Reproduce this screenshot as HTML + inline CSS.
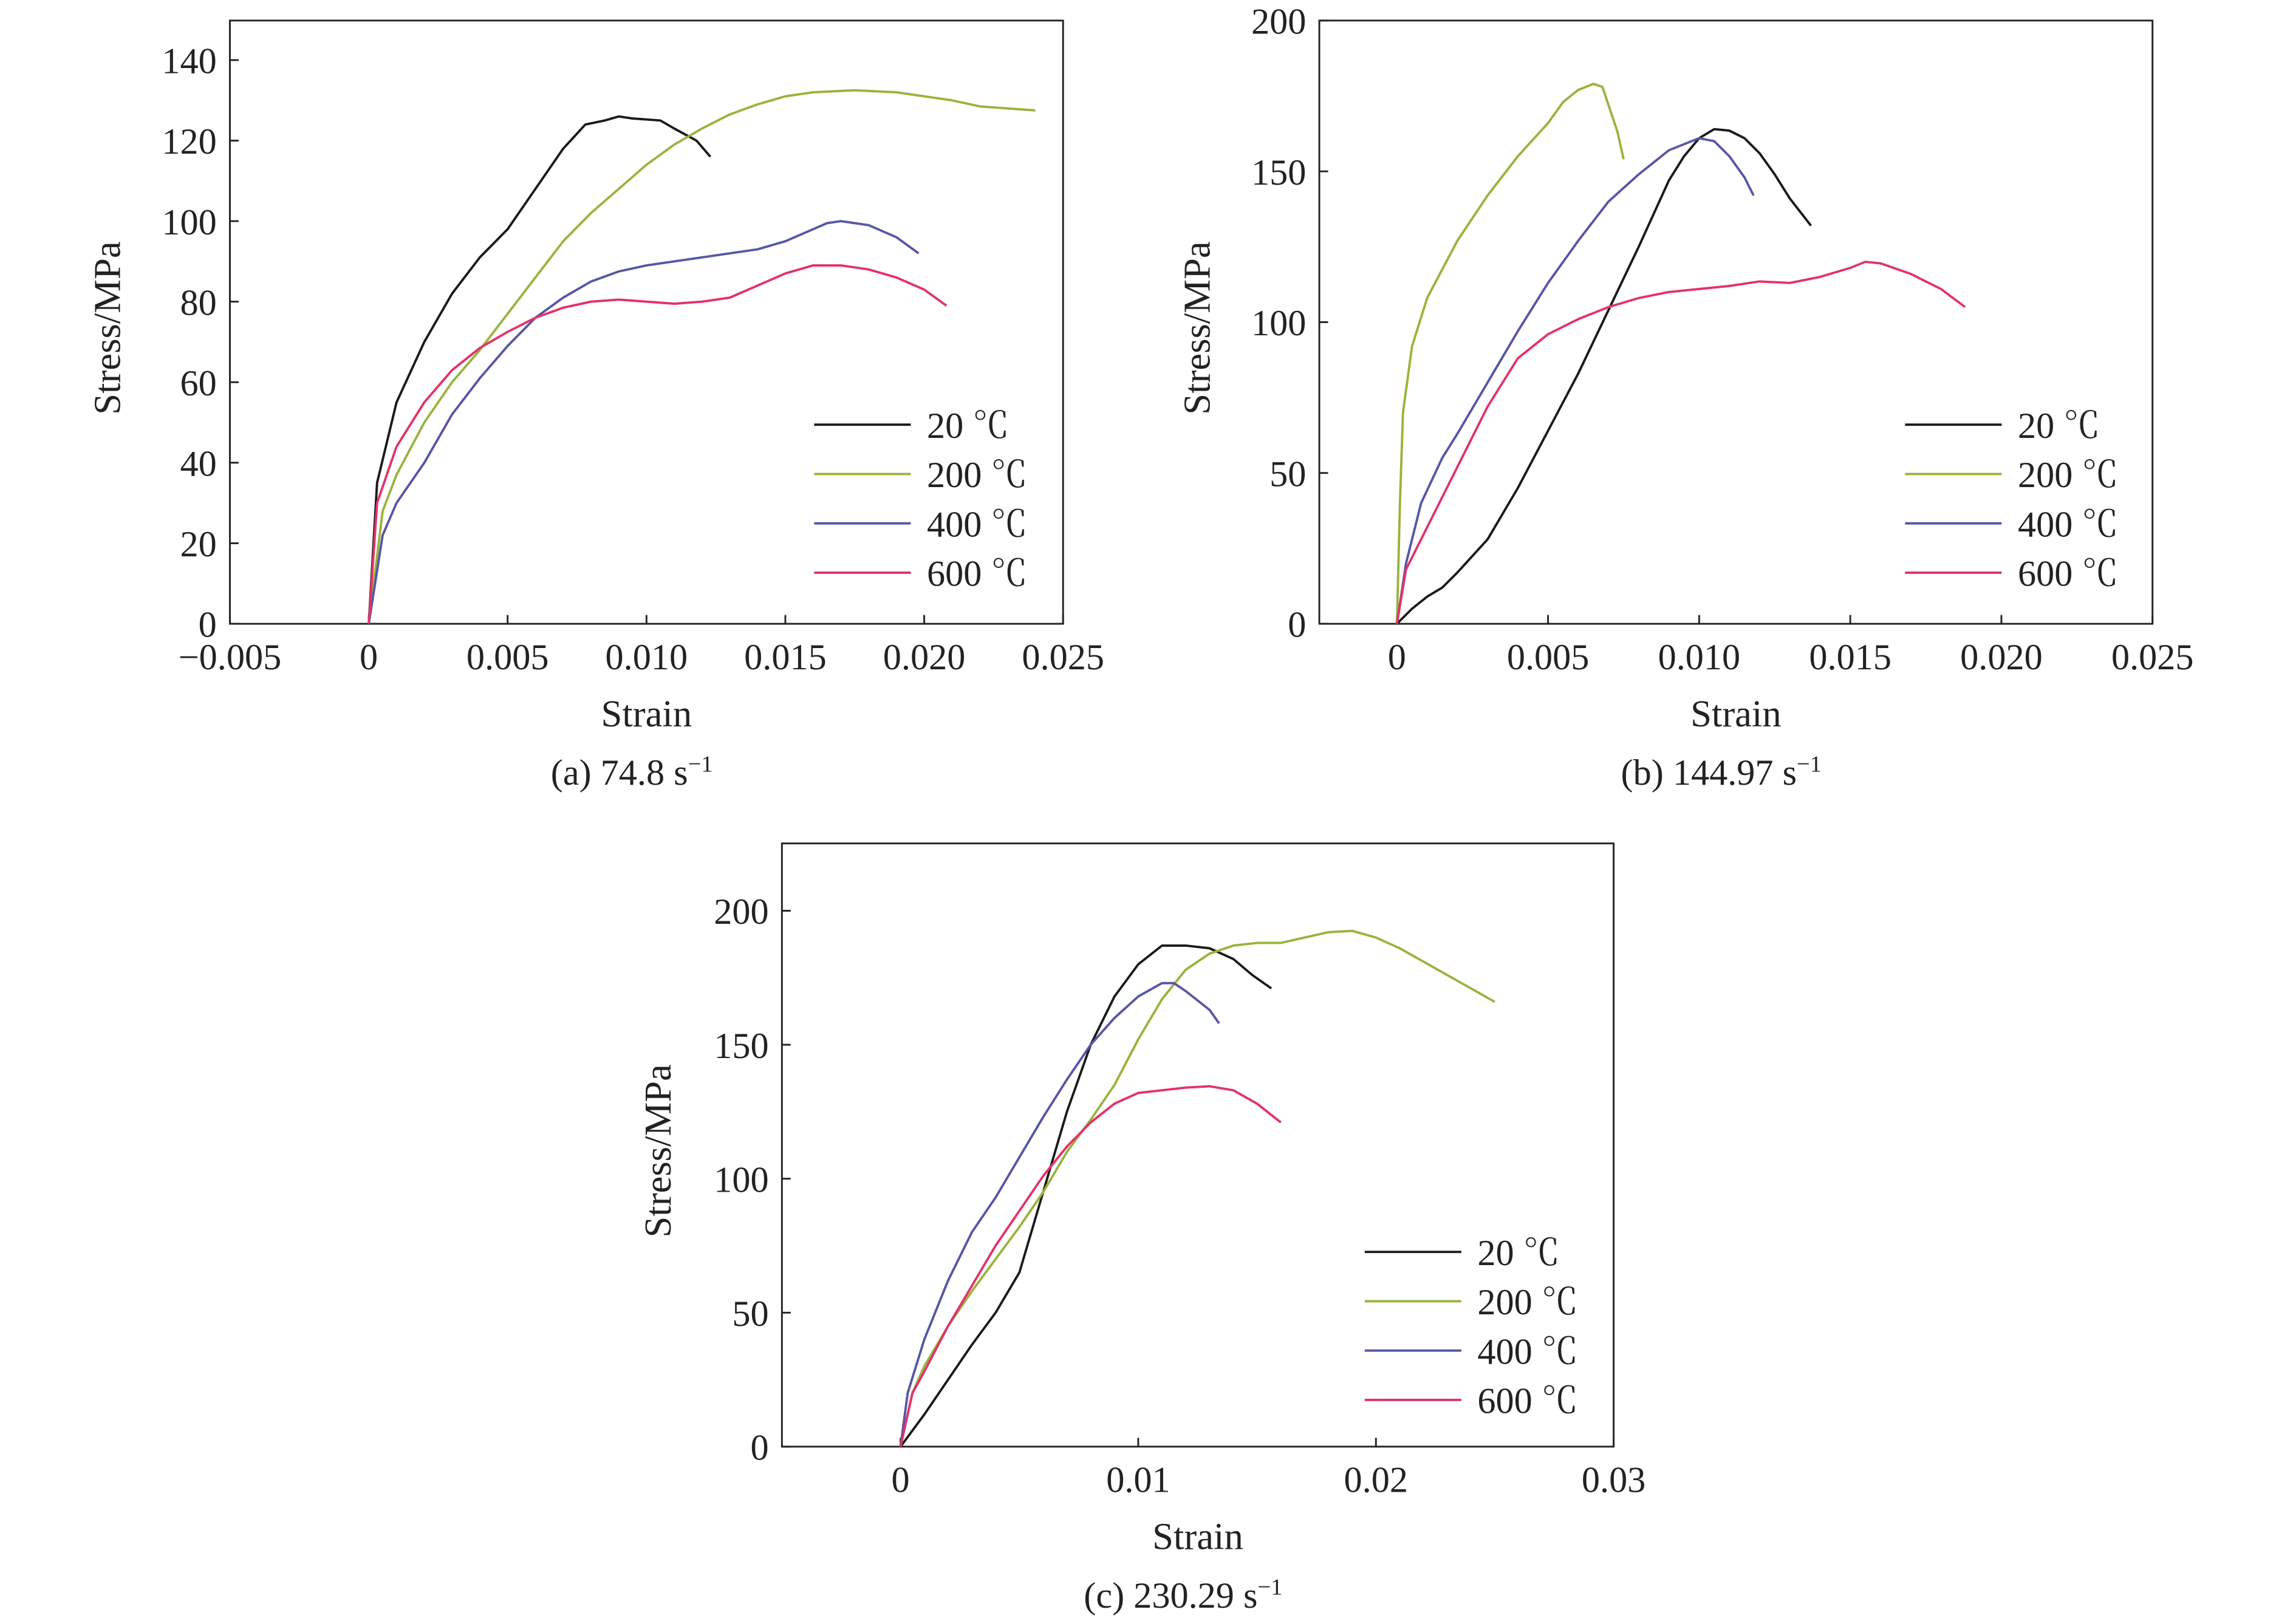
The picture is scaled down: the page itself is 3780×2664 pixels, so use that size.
<!DOCTYPE html>
<html><head><meta charset="utf-8"><style>
html,body{margin:0;padding:0;background:#fff}
svg{display:block}
text{font-family:"Liberation Serif","Noto Serif CJK SC",serif;fill:#222}
</style></head><body>
<svg id="fig" width="3780" height="2664" viewBox="0 0 1568 1105" xmlns="http://www.w3.org/2000/svg"></svg>
<script>
// ---- data ----
const seriesNames=["20 ℃","200 ℃","400 ℃","600 ℃"];
const colors=["#1a1a1a","#98b43c","#5656a6","#e2336a"];
// panel a
const aX20=[0,0.0003,0.001,0.002,0.003,0.004,0.005,0.006,0.007,0.0078,0.0085,0.009,0.0095,0.0105,0.011,0.0118,0.0123];
const aY20=[0,35,55,70,82,91,98,108,118,124,125,126,125.5,125,123,120,116];
const aX200=[0,0.0005,0.001,0.002,0.003,0.004,0.005,0.006,0.007,0.008,0.009,0.010,0.011,0.012,0.013,0.014,0.015,0.016,0.0175,0.019,0.020,0.021,0.022,0.024];
const aY200=[0,28,37,50,60,68,77,86,95,102,108,114,119,123,126.5,129,131,132,132.5,132,131,130,128.5,127.5];
const aX400=[0,0.0005,0.001,0.002,0.003,0.004,0.005,0.006,0.007,0.008,0.009,0.010,0.011,0.012,0.013,0.014,0.015,0.016,0.0165,0.017,0.018,0.019,0.0198];
const aY400=[0,22,30,40,52,61,69,76,81,85,87.5,89,90,91,92,93,95,98,99.5,100,99,96,92];
const aX600=[0,0.0003,0.001,0.002,0.003,0.004,0.005,0.006,0.007,0.008,0.009,0.010,0.011,0.012,0.013,0.014,0.015,0.016,0.017,0.018,0.019,0.020,0.0208];
const aY600=[0,30,44,55,63,68.5,72.5,76,78.5,80,80.5,80,79.5,80,81,84,87,89,89,88,86,83,79];
// panel b
const bX20=[0,0.0005,0.001,0.0015,0.002,0.003,0.004,0.005,0.006,0.007,0.008,0.009,0.0095,0.010,0.0105,0.011,0.0115,0.012,0.0125,0.013,0.0137];
const bY20=[0,5,9,12,17,28,45,64,83,104,125,147,155,161,164,163.5,161,156,149,141,132];
const bX200=[0,0.0001,0.0002,0.0005,0.001,0.002,0.003,0.004,0.005,0.0055,0.006,0.0065,0.0068,0.007,0.0073,0.0075];
const bY200=[0,40,70,92,108,127,142,155,166,173,177,179,178,172,163,154];
const bX400=[0,0.0003,0.0008,0.0015,0.002,0.003,0.004,0.005,0.006,0.007,0.008,0.009,0.010,0.0105,0.011,0.0115,0.0118];
const bY400=[0,20,40,55,63,80,97,113,127,140,149,157,161,160,155,148,142];
const bX600=[0,0.0003,0.001,0.002,0.003,0.004,0.005,0.006,0.007,0.008,0.009,0.010,0.011,0.012,0.013,0.014,0.015,0.0155,0.016,0.017,0.018,0.0188];
const bY600=[0,18,32,52,72,88,96,101,105,108,110,111,112,113.5,113,115,118,120,119.5,116,111,105];
// panel c
const cX20=[0,0.001,0.002,0.003,0.004,0.005,0.006,0.007,0.008,0.009,0.010,0.011,0.012,0.013,0.014,0.0148,0.0156];
const cY20=[0,12,25,38,50,65,95,125,150,168,180,187,187,186,182,176,171];
const cX200=[0,0.0005,0.001,0.002,0.003,0.004,0.005,0.006,0.007,0.008,0.009,0.010,0.011,0.012,0.013,0.014,0.015,0.016,0.017,0.018,0.019,0.020,0.021,0.022,0.023,0.024,0.025];
const cY200=[0,20,30,45,58,70,82,95,110,122,135,152,167,178,184,187,188,188,190,192,192.5,190,186,181,176,171,166];
const cX400=[0,0.0003,0.001,0.002,0.003,0.004,0.005,0.006,0.007,0.008,0.009,0.010,0.011,0.0115,0.012,0.013,0.0134];
const cY400=[0,20,40,62,80,93,108,123,137,150,160,168,173,173,170,163,158];
const cX600=[0,0.0005,0.001,0.002,0.003,0.004,0.005,0.006,0.007,0.008,0.009,0.010,0.011,0.012,0.013,0.014,0.015,0.016];
const cY600=[0,20,28,45,60,75,88,101,112,121,128,132,133,134,134.5,133,128,121];
// ticks
const aXTicks=[-0.005,0,0.005,0.010,0.015,0.020,0.025];
const aXLabels=["−0.005","0","0.005","0.010","0.015","0.020","0.025"];
const aYTicks=[0,20,40,60,80,100,120,140];
const bXTicks=[0,0.005,0.010,0.015,0.020,0.025];
const bXLabels=["0","0.005","0.010","0.015","0.020","0.025"];
const bYTicks=[0,50,100,150,200];
const cXTicks=[0,0.01,0.02,0.03];
const cXLabels=["0","0.01","0.02","0.03"];
const cYTicks=[0,50,100,150,200];

const NS="http://www.w3.org/2000/svg";
const svg=document.getElementById('fig');
function mk(tag,attrs,parent){const e=document.createElementNS(NS,tag);for(const k in attrs)e.setAttribute(k,attrs[k]);(parent||svg).appendChild(e);return e;}

const panels=[
 {id:"a",L:157,R:726,T:14,B:426,x0:-0.005,x1:0.025,y0:0,y1:140*(412/385),xt:aXTicks,xl:aXLabels,yt:aYTicks,
  xs:[aX20,aX200,aX400,aX600],ys:[aY20,aY200,aY400,aY600],leg:[556,290],cap:"(a) 74.8 s",yT:82},
 {id:"b",L:901,R:1470,T:14,B:426,x0:-0.025*53/516,x1:0.025,y0:0,y1:200,xt:bXTicks,xl:bXLabels,yt:bYTicks,
  xs:[bX20,bX200,bX400,bX600],ys:[bY20,bY200,bY400,bY600],leg:[1301,290],cap:"(b) 144.97 s",yT:826},
 {id:"c",L:534,R:1102,T:576,B:988,x0:-0.03*81/487,x1:0.03,y0:0,y1:200*412/366,xt:cXTicks,xl:cXLabels,yt:cYTicks,
  xs:[cX20,cX200,cX400,cX600],ys:[cY20,cY200,cY400,cY600],leg:[932,855],cap:"(c) 230.29 s",yT:458}
];
panels.forEach(p=>{
  const g=mk('g',{});
  
  
  const sx=v=>p.L+(v-p.x0)/(p.x1-p.x0)*(p.R-p.L);
  const sy=v=>p.B-(v-p.y0)/(p.y1-p.y0)*(p.B-p.T);
  const box=mk('rect',{x:p.L,y:p.T,width:p.R-p.L,height:p.B-p.T,fill:"none",stroke:"#222","stroke-width":1.2},g);
  
  
  p.xt.forEach((t,i)=>{
    const x=sx(t);
    mk('line',{x1:x,x2:x,y1:p.B,y2:p.B-6,stroke:"#222","stroke-width":1.2},g);
    const tx=mk('text',{x:x,y:p.B+31,"text-anchor":"middle","font-size":25},g);
    tx.textContent=p.xl[i];
    
    
  });
  p.yt.forEach(t=>{
    const y=sy(t);
    mk('line',{x1:p.L,x2:p.L+6,y1:y,y2:y,stroke:"#222","stroke-width":1.2},g);
    const tx=mk('text',{x:p.L-9,y:y+9,"text-anchor":"end","font-size":25},g);
    tx.textContent=t;
    
    
  });
  const xl=mk('text',{x:(p.L+p.R)/2,y:p.B+70,"text-anchor":"middle","font-size":26},g);
  xl.textContent="Strain";
  
  
  const yc=(p.T+p.B)/2+4;
  const yl=mk('text',{x:p.yT,y:yc,"text-anchor":"middle","font-size":26,transform:`rotate(-90 ${p.yT} ${yc})`},g);
  yl.textContent="Stress/MPa";
  
  
  const cap=mk('text',{x:(p.L+p.R)/2-10,y:p.B+110,"text-anchor":"middle","font-size":25},g);
  cap.textContent=p.cap;
  const sup=mk('tspan',{dy:-9,"font-size":16},cap);
  sup.textContent="−1";
  
  
  p.xs.forEach((xa,si)=>{
    const ya=p.ys[si];
    const d=xa.map((v,i)=>(i?'L':'M')+sx(v).toFixed(2)+' '+sy(ya[i]).toFixed(2)).join(' ');
    const path=mk('path',{d:d,fill:"none",stroke:colors[si],"stroke-width":1.6,"stroke-linejoin":"round"},g);
    
    
    const ly=p.leg[1]+si*33.7;
    const ll=mk('line',{x1:p.leg[0],x2:p.leg[0]+66,y1:ly,y2:ly,stroke:colors[si],"stroke-width":1.6},g);
    
    
    const lt=mk('text',{x:p.leg[0]+77,y:ly+9,"font-size":25},g);
    lt.textContent=seriesNames[si];
    
    
  });
});
</script>
</body></html>
